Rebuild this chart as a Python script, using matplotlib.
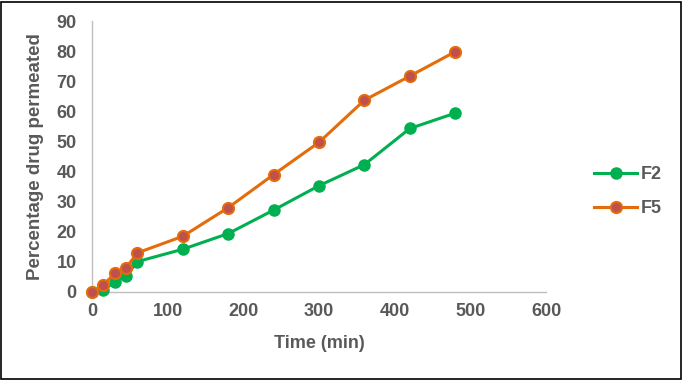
import matplotlib
matplotlib.use("Agg")
import matplotlib.pyplot as plt
from matplotlib.patches import Rectangle

time_min = [0, 15, 30, 45, 60, 120, 180, 240, 300, 360, 420, 480]
f2 = [0, 0.8, 3.2, 5.3, 10.1, 14.2, 19.4, 27.2, 35.3, 42.3, 54.3, 59.4]
f5 = [0, 2.3, 6.2, 8.0, 13.0, 18.5, 28.0, 39.0, 49.7, 63.7, 71.7, 79.8]

plt.rcParams['font.family'] = ['Liberation Sans', 'DejaVu Sans']
gray = '#595959'

fig = plt.figure(figsize=(6.83, 3.8), dpi=100)
ax = fig.add_axes([92 / 683, 1 - 292 / 380, (546 - 92) / 683, (292 - 21) / 380])

ax.plot(time_min, f2, color='#00B050', lw=2.2, marker='o', ms=8,
        mfc='#00B050', mec='#00B050', label='F2', clip_on=False, zorder=3)
ax.plot(time_min, f5, color='#E46C0A', lw=2.2, marker='o', ms=8,
        mfc='#C0504D', mec='#E46C0A', mew=1.5, label='F5', clip_on=False, zorder=4)

ax.set_xlim(0, 600)
ax.set_ylim(0, 90)
ax.set_xticks(range(0, 601, 100))
ax.set_yticks(range(0, 91, 10))
for s in ['top', 'right']:
    ax.spines[s].set_visible(False)
for s in ['left', 'bottom']:
    ax.spines[s].set_color('#BFBFBF')
    ax.spines[s].set_linewidth(1)
ax.tick_params(axis='x', length=0, pad=8, labelsize=13, labelcolor=gray)
ax.tick_params(axis='y', length=0, pad=11, labelsize=13, labelcolor=gray)
for lab in ax.get_xticklabels() + ax.get_yticklabels():
    lab.set_fontweight('bold')

ax.set_xlabel('Time (min)', fontsize=13, fontweight='bold', color=gray, labelpad=11)
ax.set_ylabel('Percentage drug permeated', fontsize=13.5, fontweight='bold', color=gray, labelpad=9)

leg = ax.legend(loc='center left', bbox_to_anchor=(1.07, 0.37), frameon=False,
                fontsize=13, labelspacing=0.95, handlelength=2.4, handletextpad=0.2)
for t in leg.get_texts():
    t.set_color(gray)
    t.set_fontweight('bold')

fig.patches.append(Rectangle((0.002, 0.003), 0.995, 0.993, transform=fig.transFigure,
                             fill=False, edgecolor='black', lw=1.2))

fig.savefig('out.png', dpi=100)
